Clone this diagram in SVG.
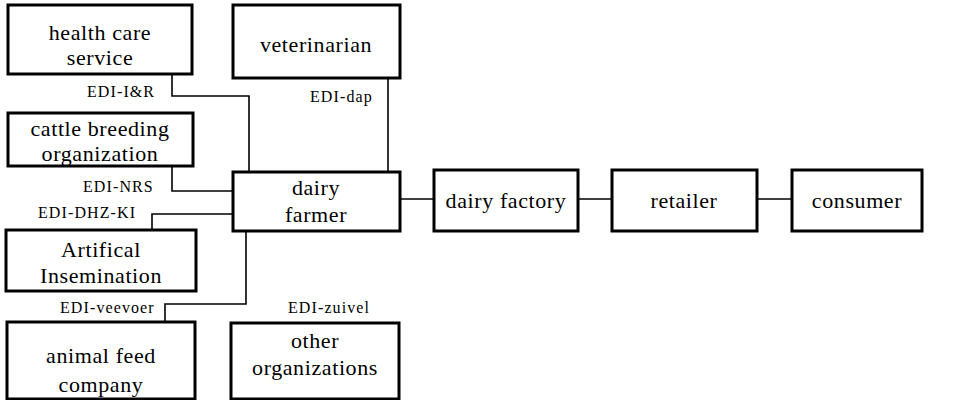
<svg xmlns="http://www.w3.org/2000/svg" width="953" height="400" viewBox="0 0 953 400">
  <style>
    .box { fill: #fff; stroke: #000; stroke-width: 3; }
    .name { font-family: "Liberation Serif", "Times New Roman", serif; font-size: 22px; letter-spacing: 0.6px; text-anchor: middle; fill: #000; }
    .edi { font-family: "Liberation Serif", "Times New Roman", serif; font-size: 16px; letter-spacing: 1.1px; fill: #000; }
    .link { fill: none; stroke: #000; stroke-width: 1.6; }
  </style>
  <rect width="953" height="400" fill="#fff"/>

  <!-- connectors -->
  <g id="connectors">
    <polyline class="link" points="172,74 172,96 249,96 249,172"/>
    <line class="link" x1="388" y1="78" x2="388" y2="172"/>
    <polyline class="link" points="172,166 172,191 233,191"/>
    <polyline class="link" points="233,214 152,214 152,230"/>
    <polyline class="link" points="246,231 246,304 165,304 165,322"/>
    <line class="link" x1="400" y1="199" x2="434" y2="199"/>
    <line class="link" x1="578" y1="199" x2="612" y2="199"/>
    <line class="link" x1="757" y1="199" x2="792" y2="199"/>
    <!-- interface labels -->
    <text class="edi" x="87" y="97">EDI-I&amp;R</text>
    <text class="edi" x="310" y="102">EDI-dap</text>
    <text class="edi" x="83" y="192">EDI-NRS</text>
    <text class="edi" x="38" y="218">EDI-DHZ-KI</text>
    <text class="edi" x="60" y="313">EDI-veevoer</text>
    <text class="edi" x="288" y="313">EDI-zuivel</text>
  </g>

  <g id="health-care-service">
    <rect class="box" x="8" y="5" width="184" height="69"/>
    <text class="name" x="100" y="40">health care</text>
    <text class="name" x="100" y="65">service</text>
  </g>
  <g id="veterinarian">
    <rect class="box" x="233" y="5" width="167" height="73"/>
    <text class="name" x="316" y="52">veterinarian</text>
  </g>
  <g id="cattle-breeding-organization">
    <rect class="box" x="8" y="113" width="185" height="53"/>
    <text class="name" x="100" y="136">cattle breeding</text>
    <text class="name" x="100" y="161">organization</text>
  </g>
  <g id="dairy-farmer">
    <rect class="box" x="233" y="172" width="167" height="59"/>
    <text class="name" x="316" y="195">dairy</text>
    <text class="name" x="316" y="222">farmer</text>
  </g>
  <g id="artificial-insemination">
    <rect class="box" x="6" y="230" width="190" height="61"/>
    <text class="name" x="101" y="257">Artifical</text>
    <text class="name" x="101" y="283">Insemination</text>
  </g>
  <g id="animal-feed-company">
    <rect class="box" x="7" y="322" width="188" height="77"/>
    <text class="name" x="101" y="363">animal feed</text>
    <text class="name" x="101" y="392">company</text>
  </g>
  <g id="other-organizations">
    <rect class="box" x="231" y="323" width="168" height="76"/>
    <text class="name" x="315" y="348">other</text>
    <text class="name" x="315" y="375">organizations</text>
  </g>
  <g id="dairy-factory">
    <rect class="box" x="434" y="170" width="144" height="61"/>
    <text class="name" x="506" y="208">dairy factory</text>
  </g>
  <g id="retailer">
    <rect class="box" x="612" y="170" width="145" height="61"/>
    <text class="name" x="684" y="208">retailer</text>
  </g>
  <g id="consumer">
    <rect class="box" x="792" y="170" width="130" height="61"/>
    <text class="name" x="857" y="208">consumer</text>
  </g>
</svg>
